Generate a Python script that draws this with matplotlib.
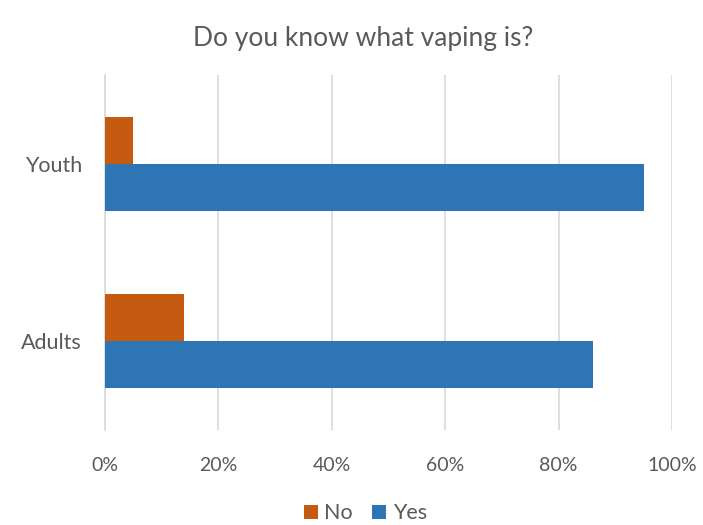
import matplotlib
matplotlib.use("Agg")
import matplotlib.pyplot as plt
import numpy as np

plt.rcParams['font.family'] = ['Lato', 'DejaVu Sans']

categories = ["Youth", "Adults"]
no_values = [0.05, 0.14]
yes_values = [0.95, 0.86]
x_ticks = [0, 0.2, 0.4, 0.6, 0.8, 1.0]
x_tick_labels = ["0%", "20%", "40%", "60%", "80%", "100%"]

text_color = "#595959"
grid_color = "#d9d9d9"
no_color = "#C55A11"
yes_color = "#2E75B6"

fig = plt.figure(figsize=(7.03, 5.25), dpi=100)
ax = fig.add_axes([0.1494, 0.1819, 0.8065, 0.6743])

pos = np.arange(len(categories))
h = 0.263
ax.barh(pos - h / 2, no_values, height=h, color=no_color, label="No", zorder=3)
ax.barh(pos + h / 2, yes_values, height=h, color=yes_color, label="Yes", zorder=3)

ax.set_ylim(1.5, -0.5)
ax.set_xlim(0, 1.0)
ax.set_yticks(pos)
ax.set_yticklabels(categories, fontsize=15.5, color=text_color)
ax.set_xticks(x_ticks)
ax.set_xticklabels(x_tick_labels, fontsize=14, color=text_color)
ax.tick_params(axis='both', length=0)
ax.tick_params(axis='x', pad=20)
ax.tick_params(axis='y', pad=16.5)

for s in ["top", "right", "bottom"]:
    ax.spines[s].set_visible(False)
ax.spines["left"].set_color(grid_color)
ax.spines["left"].set_linewidth(1.2)
ax.xaxis.grid(True, color=grid_color, linewidth=1.2, zorder=0)
ax.set_axisbelow(True)

fig.text(0.517, 0.927, "Do you know what vaping is?", ha="center", va="center",
         fontsize=19, color=text_color)

handles, labels = ax.get_legend_handles_labels()
fig.legend(handles, labels, loc="center", bbox_to_anchor=(0.52, 0.022), ncol=2,
           frameon=False, fontsize=15.5, labelcolor=text_color, handlelength=0.65,
           handleheight=0.65, handletextpad=0.3, columnspacing=0.9)

fig.savefig("out.png", dpi=100)
